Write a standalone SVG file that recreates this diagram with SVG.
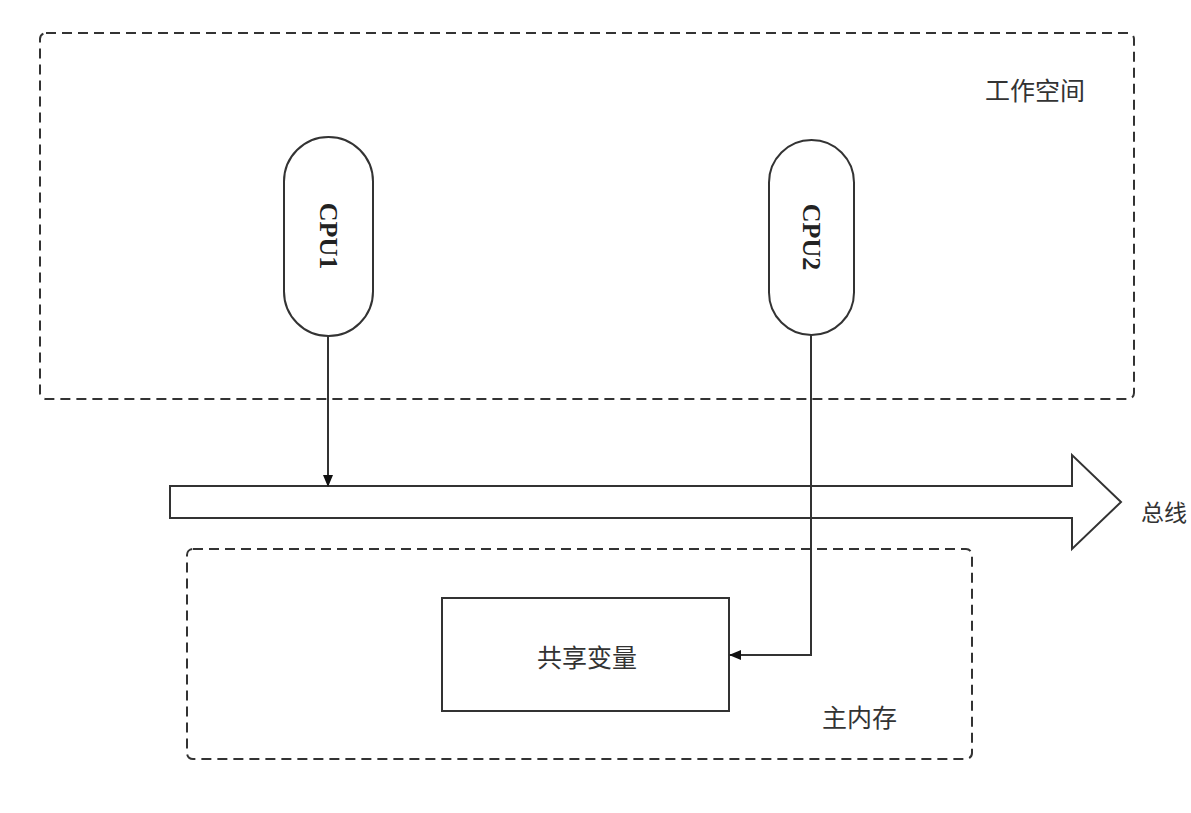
<svg xmlns="http://www.w3.org/2000/svg" width="1191" height="813" viewBox="0 0 1191 813">
<defs>
<marker id="arr" markerWidth="12" markerHeight="10" refX="11" refY="5" orient="auto" markerUnits="userSpaceOnUse">
<path d="M0,0 L12,5 L0,10 Z" fill="#111"/>
</marker>
<style>
.dash{fill:none;stroke:#333;stroke-width:2;stroke-dasharray:10,6}
.box{fill:#fff;stroke:#333;stroke-width:2}
.cpu{font-family:"Liberation Serif",serif;font-weight:bold;font-size:26px;fill:#222}
.cjk{font-family:"Liberation Serif","Noto Sans CJK SC",serif;font-size:25px;fill:#333}
.line{fill:none;stroke:#333;stroke-width:2}
</style>
</defs>
<rect width="1191" height="813" fill="#fff"/>
<g id="workspace">
<rect class="dash" x="40" y="33" width="1094" height="366" rx="6"/>
<text class="cjk" x="985" y="100">工作空间</text>
</g>
<g id="cpu1">
<rect class="box" x="284" y="137" width="89" height="199" rx="44.5"/>
<text class="cpu" transform="translate(328,236) rotate(90)" text-anchor="middle" dominant-baseline="central">CPU1</text>
</g>
<g id="cpu2">
<rect class="box" x="769" y="140" width="85" height="195" rx="42.5"/>
<text class="cpu" transform="translate(811,237) rotate(90)" text-anchor="middle" dominant-baseline="central">CPU2</text>
</g>
<g id="bus">
<path class="box" d="M170,486 L1072,486 L1072,455 L1121,502 L1072,549 L1072,518 L170,518 Z"/>
<text class="cjk" x="1141" y="521" style="font-size:23px">总线</text>
</g>
<g id="mainmem">
<rect class="dash" x="187" y="549" width="785" height="210" rx="6"/>
<text class="cjk" x="822" y="727">主内存</text>
</g>
<g id="shared">
<rect class="box" x="442" y="598" width="287" height="113"/>
<text class="cjk" x="587" y="667" text-anchor="middle">共享变量</text>
</g>
<g id="connectors">
<path class="line" d="M328,336 L328,486" marker-end="url(#arr)"/>
<path class="line" d="M811,335 L811,655 L730,655" marker-end="url(#arr)"/>
</g>
</svg>
